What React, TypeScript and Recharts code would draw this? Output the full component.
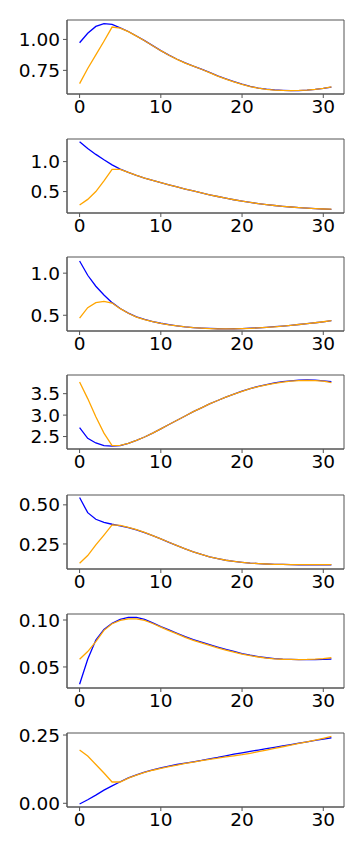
import { LineChart, Line, XAxis, YAxis, CartesianGrid } from 'recharts';

const steps = [0, 1, 2, 3, 4, 5, 6, 7, 8, 9, 10, 11, 12, 13, 14, 15, 16, 17, 18, 19, 20, 21, 22, 23, 24, 25, 26, 27, 28, 29, 30, 31];
const xTicks = [0, 10, 20, 30];

const blue1 = [0.973, 1.05, 1.105, 1.128, 1.122, 1.094, 1.064, 1.028, 0.99, 0.95, 0.91, 0.873, 0.84, 0.81, 0.785, 0.76, 0.733, 0.706, 0.682, 0.659, 0.638, 0.621, 0.607, 0.598, 0.592, 0.589, 0.587, 0.587, 0.59, 0.596, 0.604, 0.615];
const orange1 = [0.643, 0.765, 0.875, 0.985, 1.1, 1.092, 1.063, 1.027, 0.989, 0.949, 0.909, 0.872, 0.839, 0.809, 0.784, 0.759, 0.731, 0.704, 0.68, 0.657, 0.636, 0.619, 0.606, 0.597, 0.591, 0.588, 0.587, 0.588, 0.591, 0.597, 0.605, 0.616];

const blue2 = [1.333, 1.22, 1.12, 1.03, 0.945, 0.875, 0.82, 0.77, 0.725, 0.685, 0.648, 0.612, 0.577, 0.543, 0.51, 0.478, 0.447, 0.418, 0.39, 0.364, 0.34, 0.319, 0.3, 0.283, 0.268, 0.255, 0.243, 0.233, 0.224, 0.216, 0.21, 0.205];
const orange2 = [0.277, 0.37, 0.5, 0.68, 0.87, 0.872, 0.82, 0.77, 0.725, 0.685, 0.648, 0.612, 0.577, 0.543, 0.51, 0.478, 0.447, 0.418, 0.39, 0.364, 0.34, 0.319, 0.3, 0.283, 0.268, 0.255, 0.243, 0.233, 0.224, 0.216, 0.21, 0.206];

const blue3 = [1.144, 0.975, 0.845, 0.74, 0.65, 0.58, 0.525, 0.48, 0.45, 0.425, 0.405, 0.388, 0.374, 0.362, 0.353, 0.347, 0.343, 0.34, 0.339, 0.34, 0.342, 0.346, 0.351, 0.357, 0.364, 0.372, 0.38, 0.39, 0.4, 0.411, 0.422, 0.435];
const orange3 = [0.467, 0.59, 0.65, 0.665, 0.645, 0.578, 0.524, 0.479, 0.449, 0.424, 0.404, 0.387, 0.373, 0.361, 0.352, 0.346, 0.342, 0.339, 0.338, 0.339, 0.341, 0.345, 0.35, 0.356, 0.363, 0.371, 0.38, 0.39, 0.4, 0.411, 0.423, 0.436];

const blue4 = [2.708, 2.46, 2.35, 2.29, 2.275, 2.29, 2.34, 2.41, 2.49, 2.58, 2.68, 2.78, 2.88, 2.98, 3.08, 3.17, 3.26, 3.34, 3.42, 3.49, 3.56, 3.62, 3.67, 3.71, 3.75, 3.78, 3.8, 3.815, 3.82, 3.815, 3.8, 3.78];
const orange4 = [3.77, 3.385, 2.96, 2.58, 2.29, 2.295, 2.34, 2.41, 2.49, 2.58, 2.68, 2.78, 2.88, 2.98, 3.08, 3.17, 3.26, 3.34, 3.42, 3.49, 3.555, 3.615, 3.665, 3.705, 3.74, 3.77, 3.79, 3.805, 3.81, 3.805, 3.79, 3.755];

const blue5 = [0.547, 0.45, 0.408, 0.388, 0.376, 0.366, 0.354, 0.34, 0.323, 0.303, 0.282, 0.26, 0.239, 0.218, 0.199, 0.183, 0.168, 0.156, 0.146, 0.139, 0.133, 0.128, 0.125, 0.122, 0.12, 0.119, 0.118, 0.117, 0.117, 0.117, 0.117, 0.117];
const orange5 = [0.127, 0.176, 0.244, 0.307, 0.372, 0.369, 0.356, 0.341, 0.324, 0.304, 0.283, 0.261, 0.24, 0.219, 0.2, 0.183, 0.168, 0.156, 0.146, 0.139, 0.133, 0.128, 0.125, 0.122, 0.12, 0.119, 0.118, 0.118, 0.118, 0.118, 0.118, 0.118];

const blue6 = [0.0316, 0.0582, 0.0787, 0.09, 0.0965, 0.1007, 0.1029, 0.1029, 0.1007, 0.097, 0.093, 0.0894, 0.0858, 0.0823, 0.0792, 0.0765, 0.0738, 0.0712, 0.0688, 0.0665, 0.0643, 0.0625, 0.061, 0.0598, 0.0589, 0.0583, 0.058, 0.0578, 0.0578, 0.0579, 0.0581, 0.0585];
const orange6 = [0.0582, 0.0664, 0.077, 0.089, 0.096, 0.0995, 0.1012, 0.1013, 0.0995, 0.0963, 0.0925, 0.0888, 0.0852, 0.0816, 0.0784, 0.0756, 0.0729, 0.0703, 0.0679, 0.0657, 0.0637, 0.062, 0.0606, 0.0595, 0.0587, 0.0582, 0.058, 0.0579, 0.058, 0.0583, 0.0588, 0.0598];

const blue7 = [-0.0025, 0.013, 0.03, 0.048, 0.064, 0.079, 0.093, 0.104, 0.114, 0.122, 0.13, 0.136, 0.142, 0.147, 0.152, 0.157, 0.163, 0.168, 0.174, 0.18, 0.185, 0.19, 0.195, 0.2, 0.205, 0.21, 0.215, 0.22, 0.225, 0.23, 0.235, 0.24];
const orange7 = [0.195, 0.173, 0.142, 0.111, 0.078, 0.078, 0.092, 0.103, 0.113, 0.121, 0.128, 0.134, 0.14, 0.146, 0.151, 0.156, 0.161, 0.165, 0.17, 0.174, 0.178, 0.183, 0.189, 0.195, 0.201, 0.207, 0.213, 0.219, 0.225, 0.231, 0.238, 0.245];

const blueSeries = [blue1, blue2, blue3, blue4, blue5, blue6, blue7];
const orangeSeries = [orange1, orange2, orange3, orange4, orange5, orange6, orange7];
const yTicks = [[0.75, 1.0], [0.5, 1.0], [0.5, 1.0], [2.5, 3.0, 3.5], [0.25, 0.5], [0.05, 0.1], [0.0, 0.25]];
const yDecimals = [2, 1, 1, 1, 2, 2, 2];
const yDomains = [[0.559, 1.157], [0.143, 1.377], [0.313, 1.192], [2.21, 3.935], [0.09, 0.563], [0.0276, 0.1064], [-0.0136, 0.2574]];
const plotTops = [20, 139, 257, 375, 495, 614, 732.5];

const FRAME = '#555';
const tickFont = { fontSize: 18.5, fill: '#000', fontFamily: 'DejaVu Sans' };

// frame around the plot area: grid lines only at the plot edges
const edgesH = ({ offset }: any) => [offset.top, offset.top + offset.height];
const edgesV = ({ offset }: any) => [offset.left, offset.left + offset.width];

function Panel({ index }: { index: number }) {
  const data = steps.map((s, i) => ({ s, blue: blueSeries[index][i], orange: orangeSeries[index][i] }));
  const dec = yDecimals[index];
  return (
    <div style={{ position: 'absolute', left: 0, top: plotTops[index] - 10 }}>
      <LineChart width={364} height={120} data={data} margin={{ top: 10, right: 20, bottom: 0, left: 0 }}>
        <CartesianGrid
          stroke={FRAME}
          strokeWidth={1}
          fill="none"
          horizontalCoordinatesGenerator={edgesH}
          verticalCoordinatesGenerator={edgesV}
        />
        <XAxis
          dataKey="s"
          type="number"
          domain={[-1.55, 32.55]}
          ticks={xTicks}
          height={36}
          tick={tickFont}
          tickSize={4}
          tickMargin={2}
          stroke={FRAME}
          interval={0}
        />
        <YAxis
          type="number"
          domain={yDomains[index]}
          ticks={yTicks[index]}
          width={67}
          tick={tickFont}
          tickSize={4}
          tickMargin={3}
          stroke={FRAME}
          interval={0}
          allowDataOverflow
          tickFormatter={(v: number) => v.toFixed(dec)}
        />
        <Line type="linear" dataKey="blue" stroke="#0000ff" strokeWidth={1.3} dot={false} isAnimationActive={false} />
        <Line type="linear" dataKey="orange" stroke="#ffa500" strokeWidth={1.3} dot={false} isAnimationActive={false} />
      </LineChart>
    </div>
  );
}

export default function App() {
  return (
    <div style={{ position: 'absolute', left: 0, top: 0, width: 364, height: 850, background: '#fff' }}>
      {plotTops.map((_, i) => (
        <Panel key={i} index={i} />
      ))}
    </div>
  );
}
